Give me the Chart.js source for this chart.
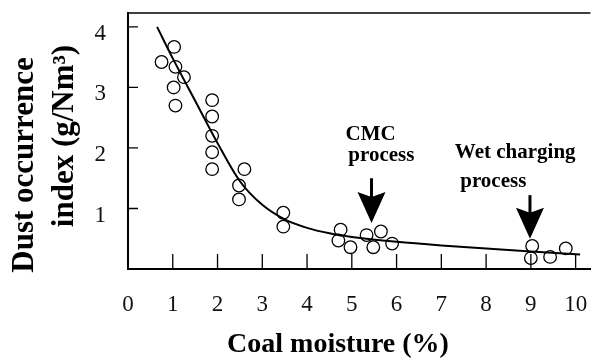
<!DOCTYPE html>
<html>
<head>
<meta charset="utf-8">
<script src="https://cdn.jsdelivr.net/npm/chart.js@4"></script>
<style>
html, body { margin: 0; padding: 0; background: #fff; }
#wrap { width: 598px; height: 361px; }
</style>
</head>
<body>
<div id="wrap"><canvas id="grafiek"></canvas></div>
<script>
// measured points: coal moisture (%) vs dust occurrence index (g/Nm3)
const vochtX = [0.75, 1.03, 1.06, 1.25, 1.02, 1.06, 1.88, 1.88, 1.88, 1.88, 1.88, 2.60, 2.48, 2.48, 3.47, 3.47,
                4.75, 4.70, 4.97, 5.33, 5.65, 5.48, 5.90, 9.03, 9.00, 9.43, 9.78];
const stofY = [3.42, 3.67, 3.34, 3.17, 3.00, 2.70, 2.79, 2.52, 2.20, 1.93, 1.65, 1.65, 1.38, 1.15, 0.93, 0.70,
               0.65, 0.47, 0.36, 0.56, 0.62, 0.36, 0.42, 0.38, 0.18, 0.20, 0.34];

// fitted curve
const fitX = [0.65, 1.0, 1.5, 2.0, 2.5, 3.0, 3.5, 4.0, 4.5, 5.0, 6.0, 7.0, 8.0, 9.0, 10.1];
const fitY = [4.00, 3.48, 2.78, 2.08, 1.45, 1.06, 0.82, 0.68, 0.59, 0.53, 0.45, 0.39, 0.34, 0.29, 0.24];

const xTicks = [0, 1, 2, 3, 4, 5, 6, 7, 8, 9, 10];
const yTicks = [1, 2, 3, 4];

// arrows + labels (data units)
const pijlX = [5.44, 8.98];
const pijlBoven = [1.50, 1.22];
const pijlPunt = [0.76, 0.50];
const notities = [["CMC", "process"], ["Wet charging", "process"]];
const notitieX = [[5.42, 5.66], [8.65, 8.16]];
const notitieY = [[2.22, 1.87], [1.92, 1.44]];

const serif = "'Liberation Serif', 'Times New Roman', serif";

const extras = {
    id: "extras",
    afterDraw(chart) {
        const ctx = chart.ctx;
        const a = chart.chartArea;
        const x = chart.scales.x;
        const y = chart.scales.y;
        ctx.save();
        ctx.strokeStyle = "#000";
        ctx.fillStyle = "#000";

        // top frame line
        ctx.lineWidth = 1.5;
        ctx.beginPath();
        ctx.moveTo(a.left, a.top);
        ctx.lineTo(a.right, a.top);
        ctx.stroke();

        // inward tick marks
        ctx.lineWidth = 1.3;
        ctx.beginPath();
        xTicks.forEach(v => {
            if (v === 0) return;
            const px = x.getPixelForValue(v);
            ctx.moveTo(px, a.bottom);
            ctx.lineTo(px, a.bottom - 15);
        });
        yTicks.forEach(v => {
            const py = y.getPixelForValue(v);
            ctx.moveTo(a.left, py);
            ctx.lineTo(a.left + 10, py);
        });
        ctx.stroke();

        // arrows
        pijlX.forEach((v, i) => {
            const px = x.getPixelForValue(v);
            const top = y.getPixelForValue(pijlBoven[i]);
            const tip = y.getPixelForValue(pijlPunt[i]);
            const kop = 31;
            ctx.lineWidth = 3;
            ctx.beginPath();
            ctx.moveTo(px, top);
            ctx.lineTo(px, tip - kop + 6);
            ctx.stroke();
            ctx.beginPath();
            ctx.moveTo(px - 14, tip - kop);
            ctx.lineTo(px, tip - kop + 5);
            ctx.lineTo(px + 14, tip - kop);
            ctx.lineTo(px, tip);
            ctx.closePath();
            ctx.fill();
        });

        // annotation text
        ctx.font = "bold 21px " + serif;
        ctx.textAlign = "center";
        ctx.textBaseline = "middle";
        notities.forEach((regels, i) => {
            regels.forEach((t, j) => {
                ctx.fillText(t, x.getPixelForValue(notitieX[i][j]), y.getPixelForValue(notitieY[i][j]));
            });
        });

        // axis titles
        ctx.font = "bold 28px " + serif;
        ctx.fillText("Coal moisture (%)", 338, 345);

        ctx.font = "bold 31px " + serif;
        ctx.textBaseline = "alphabetic";
        ctx.save();
        ctx.translate(33, 165);
        ctx.rotate(-Math.PI / 2);
        ctx.fillText("Dust occurrence", 0, 0);
        ctx.restore();
        ctx.save();
        ctx.translate(73, 136);
        ctx.rotate(-Math.PI / 2);
        ctx.fillText("index (g/Nm\u00B3)", 0, 0);
        ctx.restore();

        ctx.restore();
    }
};

function zonderMarge(s) {
    s.paddingLeft = 0;
    s.paddingRight = 0;
    s.paddingTop = 0;
    s.paddingBottom = 0;
}

const ctx = document.getElementById("grafiek").getContext("2d");
const grafiek = new Chart(ctx, {
    type: "scatter",
    data: {
        datasets: [{
            label: "metingen",
            data: vochtX.map((v, i) => ({ x: v, y: stofY[i] })),
            pointStyle: "circle",
            pointRadius: 6.3,
            backgroundColor: "rgba(255,255,255,0)",
            borderColor: "#000",
            borderWidth: 1.3
        }, {
            label: "fit",
            data: fitX.map((v, i) => ({ x: v, y: fitY[i] })),
            showLine: true,
            pointRadius: 0,
            borderColor: "#000",
            borderWidth: 2,
            cubicInterpolationMode: "monotone"
        }]
    },
    options: {
        responsive: true,
        maintainAspectRatio: false,
        animation: false,
        layout: { padding: { top: 13, left: 0, right: 0, bottom: 0 } },
        plugins: {
            legend: { display: false },
            tooltip: { enabled: false }
        },
        scales: {
            x: {
                type: "linear",
                min: 0,
                max: 10.33,
                grid: { display: false },
                border: { display: true, color: "#000", width: 2 },
                ticks: {
                    color: "#111",
                    font: { family: serif, size: 23 },
                    padding: 14
                },
                afterBuildTicks: s => { s.ticks = xTicks.map(v => ({ value: v })); },
                afterFit: s => { s.height = 92; zonderMarge(s); }
            },
            y: {
                type: "linear",
                min: 0,
                max: 4.23,
                grid: { display: false },
                border: { display: true, color: "#000", width: 2 },
                ticks: {
                    color: "#111",
                    font: { family: serif, size: 23 },
                    padding: 14,
                    labelOffset: 7
                },
                afterBuildTicks: s => { s.ticks = yTicks.map(v => ({ value: v })); },
                afterFit: s => { s.width = 128; zonderMarge(s); }
            }
        }
    },
    plugins: [extras]
});
</script>
</body>
</html>
